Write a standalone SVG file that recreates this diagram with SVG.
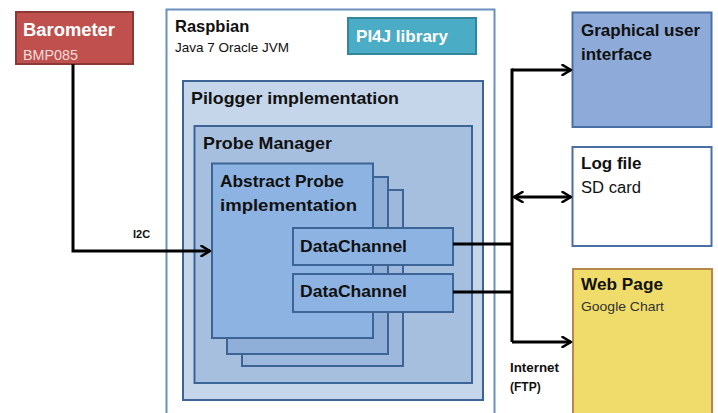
<svg xmlns="http://www.w3.org/2000/svg" width="718" height="413" viewBox="0 0 718 413">
<defs>
<style>
.t{font-family:"Liberation Sans",Arial,sans-serif;}
.b{font-weight:bold;}
.blk{fill:#111;}
.wht{fill:#fff;}
.bx{stroke:#3d6496;stroke-width:2;}
.con{fill:none;stroke:#000;stroke-width:3;}
</style>
<marker id="arr" viewBox="0 0 12 12" refX="10.5" refY="6" markerWidth="12" markerHeight="12" markerUnits="userSpaceOnUse" orient="auto-start-reverse">
<path d="M2,1 L10.5,6 L2,11" fill="none" stroke="#000" stroke-width="2.6" stroke-linecap="round" stroke-linejoin="round"/>
</marker>
</defs>
<rect width="718" height="413" fill="#fff"/>

<g id="raspbian">
<rect x="166.5" y="9.5" width="328" height="410" fill="#fff" stroke="#6b8fbf" stroke-width="2"/>
<text class="t b blk" x="175" y="32" font-size="16.5">Raspbian</text>
<text class="t blk" x="175" y="52" font-size="13.5" textLength="114" lengthAdjust="spacingAndGlyphs">Java 7 Oracle JVM</text>
</g>

<g id="pi4j">
<rect x="348" y="18" width="128" height="36" fill="#4bacc6" stroke="#31859c" stroke-width="2"/>
<text class="t b wht" x="356" y="42" font-size="17" textLength="92" lengthAdjust="spacingAndGlyphs">PI4J library</text>
</g>

<g id="pilogger">
<rect x="183" y="81" width="300" height="319" fill="#c5d5ea" class="bx"/>
<text class="t b blk" x="191" y="104" font-size="17" textLength="208" lengthAdjust="spacingAndGlyphs">Pilogger implementation</text>
</g>

<g id="probe-manager">
<rect x="194.5" y="126" width="277.5" height="257" fill="#a7bfdf" class="bx"/>
<text class="t b blk" x="203" y="149" font-size="16.5" textLength="129" lengthAdjust="spacingAndGlyphs">Probe Manager</text>
</g>

<g id="probe-stack-3">
<rect x="242" y="190" width="161" height="176" fill="#9db8dc" class="bx"/>
</g>
<g id="probe-stack-2">
<rect x="227" y="177" width="161" height="177" fill="#90afd8" class="bx"/>
</g>
<g id="abstract-probe">
<rect x="212" y="163.5" width="161" height="174.5" fill="#8db3e2" class="bx"/>
<text class="t b blk" x="220" y="187" font-size="17" textLength="124" lengthAdjust="spacingAndGlyphs">Abstract Probe</text>
<text class="t b blk" x="220" y="211" font-size="17" textLength="137" lengthAdjust="spacingAndGlyphs">implementation</text>
</g>

<g id="datachannel-1">
<rect x="293" y="228" width="160" height="37" fill="#8db3e2" class="bx"/>
<text class="t b blk" x="300" y="252" font-size="17" textLength="107" lengthAdjust="spacingAndGlyphs">DataChannel</text>
</g>
<g id="datachannel-2">
<rect x="293" y="274" width="160" height="38" fill="#8db3e2" class="bx"/>
<text class="t b blk" x="300" y="297" font-size="17" textLength="107" lengthAdjust="spacingAndGlyphs">DataChannel</text>
</g>

<g id="barometer">
<rect x="16" y="12" width="117" height="52" fill="#c0504d" stroke="#8c3836" stroke-width="2"/>
<text class="t b wht" x="23" y="36" font-size="18" textLength="92" lengthAdjust="spacingAndGlyphs">Barometer</text>
<text class="t" x="23" y="60" font-size="14.5" fill="#f4dcdb" textLength="55" lengthAdjust="spacingAndGlyphs">BMP085</text>
</g>

<g id="gui">
<rect x="572.5" y="12.5" width="139" height="114.5" fill="#8eaad8" stroke="#4a6fa5" stroke-width="2"/>
<text class="t b blk" x="581" y="36" font-size="17" textLength="119" lengthAdjust="spacingAndGlyphs">Graphical user</text>
<text class="t b blk" x="581" y="60" font-size="17">interface</text>
</g>

<g id="logfile">
<rect x="572.5" y="147" width="139" height="99" fill="#fff" stroke="#4a6fa5" stroke-width="2"/>
<text class="t b blk" x="581" y="169" font-size="17">Log file</text>
<text class="t blk" x="581" y="193" font-size="16" textLength="60" lengthAdjust="spacingAndGlyphs">SD card</text>
</g>

<g id="webpage">
<rect x="573" y="269" width="139" height="160" fill="#f0dc6a" stroke="#b5874a" stroke-width="2"/>
<text class="t b blk" x="581" y="290" font-size="17" textLength="82" lengthAdjust="spacingAndGlyphs">Web Page</text>
<text class="t" x="581" y="311" font-size="13" fill="#333" textLength="83" lengthAdjust="spacingAndGlyphs">Google Chart</text>
</g>

<g id="connectors">
<polyline class="con" points="73,64 73,251 210,251" marker-end="url(#arr)"/>
<polyline class="con" points="453,244 512,244"/>
<polyline class="con" points="453,292 512,292"/>
<polyline class="con" points="512,68.5 512,342"/>
<polyline class="con" points="512,70 571,70" marker-end="url(#arr)"/>
<polyline class="con" points="514,197 571,197" marker-start="url(#arr)" marker-end="url(#arr)"/>
<polyline class="con" points="512,342 571,342" marker-end="url(#arr)"/>
<text class="t b blk" x="133" y="238" font-size="11">I2C</text>
<text class="t b blk" x="510" y="372" font-size="12" textLength="49" lengthAdjust="spacingAndGlyphs">Internet</text>
<text class="t b blk" x="510" y="391" font-size="12">(FTP)</text>
</g>
</svg>
